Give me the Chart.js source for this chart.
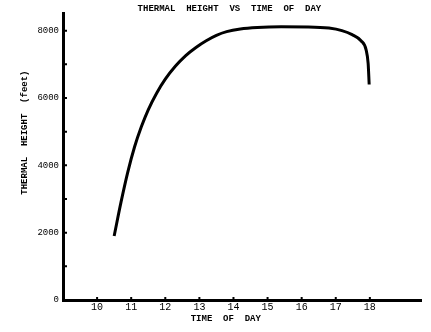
<!DOCTYPE html>
<html>
<head>
<meta charset="utf-8">
<script src="https://cdn.jsdelivr.net/npm/chart.js@4"></script>
<style>
  html, body { margin: 0; padding: 0; background: #fff; }
  #wrap { width: 431px; height: 332px; }
</style>
</head>
<body>
<div id="wrap"><canvas id="chart"></canvas></div>
<script>
// time of day (hours) and thermal height (feet)
var hours   = [10.50, 10.70, 10.90, 11.10, 11.30, 11.50, 11.75, 12.00, 12.30, 12.60, 12.90, 13.20, 13.50, 13.80, 14.20, 14.70, 15.40, 16.20, 16.80, 17.18, 17.48, 17.74, 17.89, 17.95, 17.98]
var heights = [1900, 2900, 3800, 4550, 5150, 5650, 6150, 6560, 6950, 7260, 7500, 7700, 7860, 7970, 8050, 8095, 8115, 8110, 8075, 8000, 7880, 7700, 7430, 7020, 6400]
var hourTicks = [10, 11, 12, 13, 14, 15, 16, 17, 18]
var heightTicks = [0, 1000, 2000, 3000, 4000, 5000, 6000, 7000, 8000]

var points = []
for (var i = 0; i < hours.length; i++) {
    points.push({x: hours[i], y: heights[i]})
}

var monoFont = {family: "'Liberation Mono', 'DejaVu Sans Mono', monospace", size: 9, weight: 'bold'}

// little tick marks drawn inside the axes, like the original
var innerTicks = {
    id: 'innerTicks',
    afterDraw: function(chart) {
        var ctx = chart.ctx
        var xs = chart.scales.x, ys = chart.scales.y
        ctx.save()
        ctx.strokeStyle = '#000'
        ctx.lineWidth = 2
        ctx.beginPath()
        heightTicks.forEach(function(v) {
            var py = ys.getPixelForValue(v)
            ctx.moveTo(xs.left, py)
            ctx.lineTo(xs.left + 4, py)
        })
        hourTicks.forEach(function(v) {
            var px = xs.getPixelForValue(v)
            ctx.moveTo(px, ys.bottom)
            ctx.lineTo(px, ys.bottom - 3)
        })
        ctx.stroke()
        ctx.restore()
    }
}

var chart = new Chart('chart', {
    type: 'line',
    data: {
        datasets: [{
            data: points,
            borderColor: '#000',
            borderWidth: 3,
            pointRadius: 0,
            fill: false,
            cubicInterpolationMode: 'monotone'
        }]
    },
    options: {
        responsive: true,
        maintainAspectRatio: false,
        animation: false,
        layout: {padding: {left: 0, right: 10, top: 0, bottom: 0}},
        plugins: {
            legend: {display: false},
            tooltip: {enabled: false},
            title: {
                display: true,
                // leading spaces nudge the centred title to the right, as in the scan
                text: '       THERMAL  HEIGHT  VS  TIME  OF  DAY',
                color: '#000',
                font: monoFont,
                padding: {top: 3, bottom: 0}
            }
        },
        scales: {
            x: {
                type: 'linear',
                min: 9,
                max: 19.5,
                afterBuildTicks: function(scale) {
                    scale.ticks = hourTicks.map(function(v) { return {value: v} })
                },
                afterFit: function(scale) { scale.height = 32 },
                grid: {display: false, drawTicks: false},
                border: {display: true, color: '#000', width: 3},
                ticks: {color: '#000', font: {family: monoFont.family, size: 10}, padding: 1, maxRotation: 0, autoSkip: false},
                title: {display: true, text: 'TIME  OF  DAY      ', color: '#000', font: monoFont, padding: {top: 0, bottom: 8}}
            },
            y: {
                min: 0,
                max: 8500,
                afterBuildTicks: function(scale) {
                    scale.ticks = heightTicks.map(function(v) { return {value: v} })
                },
                afterFit: function(scale) { scale.width = 63 },
                grid: {display: false, drawTicks: false},
                border: {display: true, color: '#000', width: 3},
                ticks: {
                    color: '#000',
                    font: {family: monoFont.family, size: 9},
                    padding: 4,
                    autoSkip: false,
                    callback: function(v) { return v % 2000 == 0 ? String(v) : '' }
                },
                title: {display: true, text: '         THERMAL  HEIGHT  (feet)', color: '#000', font: monoFont, padding: {top: 19, bottom: 0}}
            }
        }
    },
    plugins: [innerTicks]
})
</script>
</body>
</html>
